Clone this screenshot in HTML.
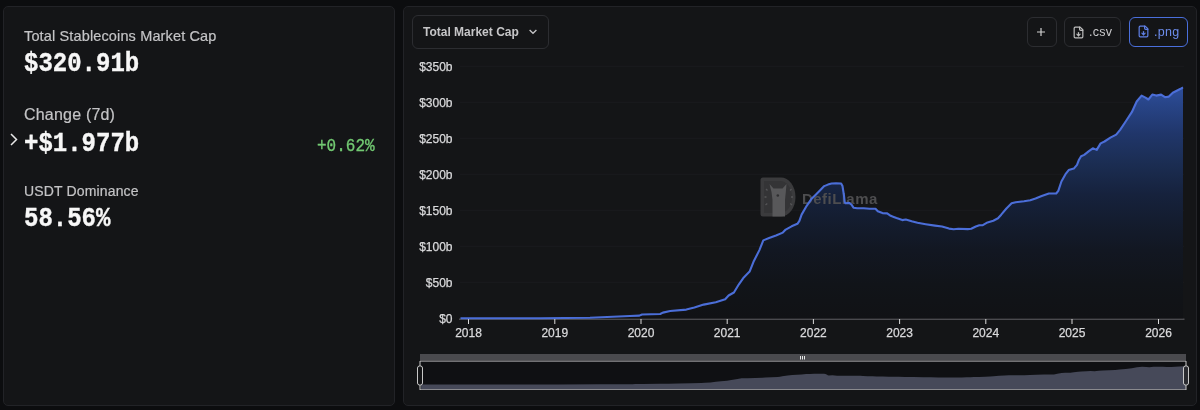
<!DOCTYPE html>
<html><head><meta charset="utf-8"><style>
*{box-sizing:border-box;margin:0;padding:0}
html,body{width:1200px;height:410px;overflow:hidden;background:#0c0d0f;font-family:"Liberation Sans",sans-serif}
.card{position:absolute;background:#141517;border:1px solid #222327;border-radius:5px}
#left{left:3px;top:6px;width:392px;height:400px}
#right{left:403px;top:6px;width:794px;height:400px}
.lbl{position:absolute;left:21px;color:#c4c4c6;font-size:14px;letter-spacing:0.25px;white-space:nowrap;-webkit-text-stroke:0.2px #c4c4c6}
.val{position:absolute;left:20px;color:#f7f7f7;font-family:"Liberation Mono",monospace;font-weight:bold;font-size:24px;white-space:nowrap;transform:scaleY(1.12);transform-origin:0 0;-webkit-text-stroke:0.35px #f7f7f7}
.btn{position:absolute;border:1px solid #2c2d31;border-radius:6px;color:#c9c9cb;font-size:12px}
svg{position:absolute;left:0;top:0}
.nolcd{will-change:transform}
</style></head><body>
<div class="card nolcd" id="left">
  <div class="lbl" style="top:20.8px;left:20px;font-size:14.5px;letter-spacing:0.14px">Total Stablecoins Market Cap</div>
  <div class="val" style="top:42px">$320.91b</div>
  <div class="lbl" style="top:98.8px;left:20px;font-size:16px;letter-spacing:0.2px">Change (7d)</div>
  <div class="val" style="top:122px">+$1.977b</div>
  <div style="position:absolute;left:313px;top:128px;color:#72c972;font-family:'Liberation Mono',monospace;font-size:16px;transform:scaleY(1.2);transform-origin:0 0;-webkit-text-stroke:0.3px #72c972">+0.62%</div>
  <svg width="10" height="14" style="left:6px;top:126.2px" viewBox="0 0 10 14"><path d="M1,1 L6.5,6.5 L1,12" fill="none" stroke="#e8e8e8" stroke-width="1.5"/></svg>
  <div class="lbl" style="top:176.4px;left:20px;letter-spacing:0.15px">USDT Dominance</div>
  <div class="val" style="top:197.3px">58.56%</div>
</div>
<div class="card nolcd" id="right">
  <div class="btn" style="left:8px;top:8px;width:137px;height:34px"><span style="position:absolute;left:10px;top:9px;font-weight:bold;color:#c6c6c8">Total Market Cap</span><svg width="10" height="6" style="left:115.3px;top:13px" viewBox="0 0 10 6"><path d="M1.6,1 L5,4.3 L8.4,1" fill="none" stroke="#c4c4c6" stroke-width="1.3"/></svg></div>
  <div class="btn" style="left:623px;top:10px;width:30px;height:30px"><svg width="10" height="10" style="left:8.4px;top:8.5px" viewBox="0 0 10 10"><path d="M5,1 V9 M1,5 H9" stroke="#d0d0d0" stroke-width="1.2"/></svg></div>
  <div class="btn" style="left:660px;top:10px;width:57px;height:30px"><span style="position:absolute;left:24px;top:7px;font-size:12.5px;letter-spacing:0.3px">.csv</span><svg width="13" height="13" style="left:7.4px;top:7.6px" viewBox="0 0 24 24" fill="none" stroke="#bdbdbd" stroke-width="2.2" stroke-linecap="round" stroke-linejoin="round"><path d="M15 2H6a2 2 0 0 0-2 2v16a2 2 0 0 0 2 2h12a2 2 0 0 0 2-2V7Z"/><path d="M14 2v4a2 2 0 0 0 2 2h4"/><path d="M12 18v-6"/><path d="m9 15 3 3 3-3"/></svg></div>
  <div class="btn" style="left:725px;top:10px;width:59px;height:30px;border:1.5px solid #4a6fdc;color:#6d8ded"><span style="position:absolute;left:24px;top:7px;font-size:12.5px;letter-spacing:0.3px">.png</span><svg width="13" height="13" style="left:6.6px;top:7.1px" viewBox="0 0 24 24" fill="none" stroke="#5f80e6" stroke-width="2.2" stroke-linecap="round" stroke-linejoin="round"><path d="M15 2H6a2 2 0 0 0-2 2v16a2 2 0 0 0 2 2h12a2 2 0 0 0 2-2V7Z"/><path d="M14 2v4a2 2 0 0 0 2 2h4"/><path d="M12 18v-6"/><path d="m9 15 3 3 3-3"/></svg></div>
</div>
<svg class="nolcd" width="1200" height="410" viewBox="0 0 1200 410">
  <defs>
    <linearGradient id="g" x1="0" y1="87" x2="0" y2="318" gradientUnits="userSpaceOnUse">
      <stop offset="0" stop-color="#2e4e9c"/>
      <stop offset="0.074" stop-color="#284588"/>
      <stop offset="0.203" stop-color="#20366a"/>
      <stop offset="0.333" stop-color="#1b2d52"/>
      <stop offset="0.463" stop-color="#16223d"/>
      <stop offset="0.571" stop-color="#141d30"/>
      <stop offset="0.706" stop-color="#121722"/>
      <stop offset="0.853" stop-color="#111419"/>
      <stop offset="1" stop-color="#111215"/>
    </linearGradient>
  </defs>
  <g stroke="#1a1b1e" stroke-width="1"><line x1="460" y1="66.3" x2="1184" y2="66.3"/><line x1="460" y1="102.3" x2="1184" y2="102.3"/><line x1="460" y1="138.3" x2="1184" y2="138.3"/><line x1="460" y1="174.3" x2="1184" y2="174.3"/><line x1="460" y1="210.3" x2="1184" y2="210.3"/><line x1="460" y1="246.3" x2="1184" y2="246.3"/><line x1="460" y1="282.3" x2="1184" y2="282.3"/></g>
  <line x1="459" y1="319.2" x2="1184.5" y2="319.2" stroke="#4a4a4e" stroke-width="1.5"/>
  <g stroke="#dcdcdc" stroke-width="1"><line x1="468.5" y1="319" x2="468.5" y2="324" /><line x1="554.8" y1="319" x2="554.8" y2="324" /><line x1="641" y1="319" x2="641" y2="324" /><line x1="727.2" y1="319" x2="727.2" y2="324" /><line x1="813.4" y1="319" x2="813.4" y2="324" /><line x1="899.6" y1="319" x2="899.6" y2="324" /><line x1="985.8" y1="319" x2="985.8" y2="324" /><line x1="1072" y1="319" x2="1072" y2="324" /><line x1="1158.5" y1="319" x2="1158.5" y2="324" /></g>
  <path d="M460.5,318.3 L540,318.3 L590,317.7 L630,316 L639.4,315.6 L642,314.5 L660.2,314 L662.9,312.6 L670.2,311 L686.3,309.6 L694.4,307.5 L703.7,304.6 L715.8,302.2 L725.2,299.2 L728.6,295.5 L733.9,292.5 L738.9,284.3 L743.8,277.4 L749.6,271.6 L753.5,261.8 L759.4,250.1 L763.3,240.4 L769.1,238 L776,235.5 L782.8,232.6 L785.7,229.6 L791.6,226.3 L797.4,223.8 L799.4,220.9 L801.6,214.6 L806.7,205.8 L811.1,199.3 L815.5,194.9 L819.9,190.5 L824.2,186.1 L827.9,184.6 L831.6,183.5 L836,183.2 L841.1,183.5 L842.5,186.1 L844,195.6 L844.7,202.2 L845.5,203.3 L849.1,202.9 L851.3,204.4 L853.5,207.7 L857.2,208.3 L863.7,208.3 L869.6,208.8 L875.5,208.8 L877.8,211.3 L882.5,213.1 L887.2,213.4 L890.7,215.8 L896.5,218.1 L902.3,220.1 L905.8,219.5 L911.7,221.3 L917.5,222.8 L925.7,224.2 L935,225.6 L942,226.5 L949,228.6 L953.7,229.2 L958.3,228.8 L967.7,229.1 L971.2,228.8 L975.8,226.5 L979.3,225.3 L982.8,225.1 L987.5,222.4 L993.3,220.7 L998,218.3 L1001.2,214.7 L1006.4,208.5 L1011.6,203.3 L1015.7,202.2 L1024,201.2 L1030.3,200.2 L1035.5,198.5 L1041.7,196 L1048.9,193.5 L1056.2,193.5 L1058.3,190.8 L1061.4,181.5 L1065.5,174.2 L1068.7,170.1 L1073.8,168.6 L1077,164.9 L1079,159.7 L1081.1,156.2 L1084.2,154.9 L1088.9,151.2 L1092.8,148.3 L1096.7,149.9 L1100.6,143.4 L1104.5,141.5 L1110.4,137.6 L1116.2,134.6 L1120.1,129.8 L1126,121 L1131.8,112.2 L1136.7,101.5 L1141.6,95.6 L1145.5,97.6 L1148.4,99.5 L1152.3,94.6 L1156.2,95.6 L1161.1,94.6 L1165,97.2 L1168.9,96.6 L1172.8,92.7 L1176.7,90.7 L1180.6,88.8 L1183,87.4 L1183,318.3 L460.5,318.3 Z" fill="url(#g)"/>
  <g>
    <path d="M763,177.5 H781 A14.5,19.5 0 0 1 781,216.5 H763 Q760.5,216.5 760.5,214 V180 Q760.5,177.5 763,177.5 Z" fill="#3b3b3d"/>
    <path d="M764,181 H780.5 A11.5,16 0 0 1 780.5,213 H764 Z" fill="#343436"/>
    <path d="M769.5,184 L773.5,188.5 H782.5 L786.5,184 L785.8,192 L785,200 V216.5 H772.5 V200 L771.5,192 Z" fill="#58585a"/>
    <circle cx="777.8" cy="195.5" r="1.3" fill="#2f2f31"/>
    <g stroke="#555557" stroke-width="1.3"><path d="M766,189 l1.5,1.5 M764.5,197 h2 M765.5,205 l1.8,-1.5 M791.5,189 l-1.5,1.5 M793,197 h-2 M792,205 l-1.8,-1.5"/></g>
    <text x="802" y="203.8" font-family="Liberation Sans" font-weight="bold" font-size="15" letter-spacing="0.45" fill="#4d4d4f">DefiLlama</text>
  </g>
  <path d="M460.5,318.3 L540,318.3 L590,317.7 L630,316 L639.4,315.6 L642,314.5 L660.2,314 L662.9,312.6 L670.2,311 L686.3,309.6 L694.4,307.5 L703.7,304.6 L715.8,302.2 L725.2,299.2 L728.6,295.5 L733.9,292.5 L738.9,284.3 L743.8,277.4 L749.6,271.6 L753.5,261.8 L759.4,250.1 L763.3,240.4 L769.1,238 L776,235.5 L782.8,232.6 L785.7,229.6 L791.6,226.3 L797.4,223.8 L799.4,220.9 L801.6,214.6 L806.7,205.8 L811.1,199.3 L815.5,194.9 L819.9,190.5 L824.2,186.1 L827.9,184.6 L831.6,183.5 L836,183.2 L841.1,183.5 L842.5,186.1 L844,195.6 L844.7,202.2 L845.5,203.3 L849.1,202.9 L851.3,204.4 L853.5,207.7 L857.2,208.3 L863.7,208.3 L869.6,208.8 L875.5,208.8 L877.8,211.3 L882.5,213.1 L887.2,213.4 L890.7,215.8 L896.5,218.1 L902.3,220.1 L905.8,219.5 L911.7,221.3 L917.5,222.8 L925.7,224.2 L935,225.6 L942,226.5 L949,228.6 L953.7,229.2 L958.3,228.8 L967.7,229.1 L971.2,228.8 L975.8,226.5 L979.3,225.3 L982.8,225.1 L987.5,222.4 L993.3,220.7 L998,218.3 L1001.2,214.7 L1006.4,208.5 L1011.6,203.3 L1015.7,202.2 L1024,201.2 L1030.3,200.2 L1035.5,198.5 L1041.7,196 L1048.9,193.5 L1056.2,193.5 L1058.3,190.8 L1061.4,181.5 L1065.5,174.2 L1068.7,170.1 L1073.8,168.6 L1077,164.9 L1079,159.7 L1081.1,156.2 L1084.2,154.9 L1088.9,151.2 L1092.8,148.3 L1096.7,149.9 L1100.6,143.4 L1104.5,141.5 L1110.4,137.6 L1116.2,134.6 L1120.1,129.8 L1126,121 L1131.8,112.2 L1136.7,101.5 L1141.6,95.6 L1145.5,97.6 L1148.4,99.5 L1152.3,94.6 L1156.2,95.6 L1161.1,94.6 L1165,97.2 L1168.9,96.6 L1172.8,92.7 L1176.7,90.7 L1180.6,88.8 L1183,87.4" fill="none" stroke="#4b6ed8" stroke-width="2.1" stroke-linejoin="round"/>
  <g font-family="Liberation Sans" font-size="12" fill="#dadadc" stroke="#dadadc" stroke-width="0.25"><text x="452.5" y="70.8" text-anchor="end">$350b</text><text x="452.5" y="106.8" text-anchor="end">$300b</text><text x="452.5" y="142.8" text-anchor="end">$250b</text><text x="452.5" y="178.8" text-anchor="end">$200b</text><text x="452.5" y="214.8" text-anchor="end">$150b</text><text x="452.5" y="250.8" text-anchor="end">$100b</text><text x="452.5" y="286.8" text-anchor="end">$50b</text><text x="452.5" y="322.8" text-anchor="end">$0</text><text x="468.5" y="336.8" text-anchor="middle">2018</text><text x="554.8" y="336.8" text-anchor="middle">2019</text><text x="641" y="336.8" text-anchor="middle">2020</text><text x="727.2" y="336.8" text-anchor="middle">2021</text><text x="813.4" y="336.8" text-anchor="middle">2022</text><text x="899.6" y="336.8" text-anchor="middle">2023</text><text x="985.8" y="336.8" text-anchor="middle">2024</text><text x="1072" y="336.8" text-anchor="middle">2025</text><text x="1158.5" y="336.8" text-anchor="middle">2026</text></g>
  <rect x="420" y="354" width="766" height="7" fill="#4a4a4e"/>
  <rect x="420" y="361" width="766" height="29" fill="#0f1013"/>
  <path d="M421.1,384.5 L505.2,384.5 L558.2,384.45 L600.5,384.32 L610.5,384.29 L613.2,384.2 L632.5,384.16 L635.3,384.05 L643.1,383.92 L660.1,383.81 L668.7,383.64 L678.5,383.42 L691.4,383.23 L701.3,382.99 L704.9,382.69 L710.5,382.46 L715.8,381.81 L721,381.26 L727.1,380.8 L731.3,380.03 L737.5,379.1 L741.6,378.33 L747.8,378.14 L755.1,377.94 L762.3,377.72 L765.4,377.48 L771.6,377.22 L777.7,377.02 L779.9,376.79 L782.2,376.29 L787.6,375.59 L792.3,375.08 L796.9,374.73 L801.6,374.38 L806.1,374.03 L810,373.92 L814,373.83 L818.6,373.8 L824,373.83 L825.5,374.03 L827.1,374.79 L827.8,375.31 L828.7,375.4 L832.5,375.36 L834.8,375.48 L837.1,375.74 L841.1,375.79 L847.9,375.79 L854.2,375.83 L860.4,375.83 L862.9,376.03 L867.8,376.17 L872.8,376.2 L876.5,376.39 L882.7,376.57 L888.8,376.73 L892.5,376.68 L898.8,376.82 L904.9,376.94 L913.6,377.05 L923.4,377.16 L930.8,377.23 L938.3,377.4 L943.2,377.45 L948.1,377.41 L958.1,377.44 L961.8,377.41 L966.6,377.23 L970.3,377.14 L974,377.12 L979,376.91 L985.2,376.77 L990.1,376.58 L993.5,376.3 L999,375.81 L1004.5,375.4 L1008.9,375.31 L1017.7,375.23 L1024.3,375.15 L1029.8,375.02 L1036.4,374.82 L1044,374.62 L1051.8,374.62 L1054,374.41 L1057.3,373.67 L1061.6,373.09 L1065,372.77 L1070.4,372.65 L1073.8,372.36 L1075.9,371.94 L1078.1,371.67 L1081.4,371.56 L1086.4,371.27 L1090.5,371.04 L1094.6,371.17 L1098.8,370.65 L1102.9,370.5 L1109.1,370.19 L1115.3,369.96 L1119.4,369.58 L1125.7,368.88 L1131.8,368.18 L1137,367.34 L1142.2,366.87 L1146.3,367.03 L1149.4,367.18 L1153.5,366.79 L1157.6,366.87 L1162.8,366.79 L1166.9,367 L1171.1,366.95 L1175.2,366.64 L1179.3,366.48 L1183.5,366.33 L1186,366.22 L1186.0,389 L421.1,389 Z" fill="#464959"/>
  <line x1="420" y1="361.3" x2="1186" y2="361.3" stroke="#8a8a8e" stroke-width="1"/>
  <line x1="420" y1="389.5" x2="1186" y2="389.5" stroke="#8a8a8e" stroke-width="1"/>
  <line x1="420" y1="361" x2="420" y2="390" stroke="#c8c8c8" stroke-width="1"/>
  <line x1="1186" y1="361" x2="1186" y2="390" stroke="#c8c8c8" stroke-width="1"/>
  <rect x="417.5" y="366" width="5" height="19" rx="2" fill="#141517" stroke="#c8c8c8" stroke-width="1"/>
  <rect x="1183.5" y="366" width="5" height="19" rx="2" fill="#2a2b30" stroke="#c8c8c8" stroke-width="1"/>
  <g fill="#e8e8e8"><rect x="800" y="356" width="1" height="3.5"/><rect x="802" y="356" width="1" height="3.5"/><rect x="804" y="356" width="1" height="3.5"/></g>
</svg>
</body></html>
